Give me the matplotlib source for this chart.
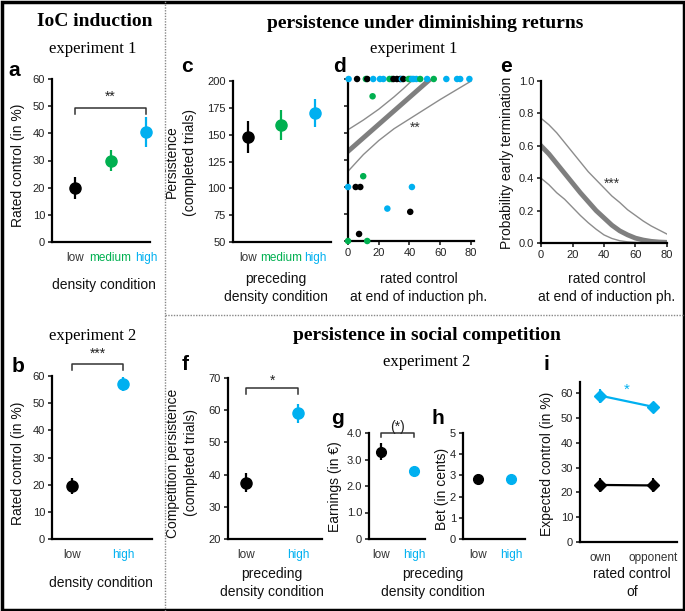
import matplotlib
matplotlib.use("Agg")
import matplotlib.pyplot as plt
from matplotlib.lines import Line2D
from matplotlib.patches import Rectangle

plt.rcParams['font.family'] = ['Liberation Sans', 'DejaVu Sans']

BLACK = "#000000"
GREEN = "#00b050"
BLUE = "#00b0f0"
GRAY = "#7f7f7f"

# ---- data ----
conds3 = ["low", "medium", "high"]
conds2 = ["low", "high"]

a_mean = [20, 30, 40.5]
a_err = [4, 4, 5.5]

b_mean = [19.5, 57]
b_err = [3, 2.5]

c_mean = [148, 159, 170]
c_err = [15, 14, 13]

# panel d: rated control vs persistence (0 = low, 1 = medium, 2 = high)
d_x = [0.4, 5.9, 11.6, 12.5, 16.4, 20.8, 23, 27, 28.5, 29.6, 31.8, 34, 35, 36,
       39.4, 40.5, 41.6, 42.7, 44.5, 47, 51.5, 55.8, 64, 71, 73, 79,
       16, 9.9, 0, 5, 8, 41.6, 25.6, 40.5, 7.2, 0, 12.5]
d_y = [200] * 26 + [184, 110, 100, 100, 100, 100, 80, 77, 56.5, 50, 50]
d_grp = [2, 0, 1, 0, 2, 2, 2, 1, 1, 0, 0, 0, 2, 0,
         1, 1, 2, 2, 2, 1, 2, 1, 2, 2, 2, 2,
         1, 1, 2, 0, 0, 2, 2, 0, 0, 1, 1]

d_fit_x = [0, 53.6]
d_fit_y = [133, 200]
d_up_x = [0, 10, 20, 30, 36, 42]
d_up_y = [153, 162, 172, 183.5, 191, 199]
d_lo_x = [0, 10, 20, 30, 40, 50, 60, 70, 80]
d_lo_y = [114.5, 130, 143, 154, 163, 172, 181, 189.5, 198]

# panel e: probability of early termination
e_x = [0, 5, 10, 15, 20, 25, 30, 35, 40, 45, 50, 55, 60, 65, 70, 75, 80]
e_fit = [0.60, 0.55, 0.49, 0.43, 0.37, 0.31, 0.255, 0.20, 0.155, 0.11,
         0.075, 0.05, 0.03, 0.018, 0.01, 0.006, 0.004]
e_up = [0.77, 0.73, 0.68, 0.62, 0.56, 0.50, 0.44, 0.39, 0.34, 0.29, 0.25,
        0.205, 0.17, 0.135, 0.105, 0.08, 0.055]
e_lo = [0.40, 0.36, 0.31, 0.27, 0.22, 0.17, 0.125, 0.085, 0.05, 0.028,
        0.014, 0.007, 0.004, 0.002, 0.001, 0.0, 0.0]

f_mean = [37.5, 59]
f_err = [3, 3]

g_mean = [3.3, 2.55]
g_err = [0.33, 0.12]

h_mean = [2.85, 2.85]
h_err = [0.2, 0.15]

i_cats = ["own", "opponent"]
i_low = [23, 22.8]
i_low_err = [3, 2.8]
i_high = [59, 54.5]
i_high_err = [2.8, 1.8]

# ---- figure ----
W, H = 685, 611
fig = plt.figure(figsize=(W / 100, H / 100), dpi=100)


def box(x0, y0, x1, y1):
    return fig.add_axes([x0 / W, 1 - y1 / H, (x1 - x0) / W, (y1 - y0) / H])


def ftext(x, y, s, **kw):
    fig.text(x / W, 1 - y / H, s, **kw)


def style(ax):
    for s in ["top", "right"]:
        ax.spines[s].set_visible(False)
    for s in ["left", "bottom"]:
        ax.spines[s].set_linewidth(1.6)
    ax.tick_params(direction="out", length=3, width=1.2, labelsize=8,
                   pad=2, colors="#222222")
    ax.patch.set_alpha(0)


def cat_axis(ax, labels, colors):
    ax.set_xticks(range(1, len(labels) + 1))
    ax.set_xticklabels(labels, fontsize=8.5)
    ax.tick_params(axis="x", length=0, pad=7)
    for t, c in zip(ax.get_xticklabels(), colors):
        t.set_color("#333333" if c == BLACK else c)


def points(ax, means, errs, colors, ms=8):
    for k, (m, e, c) in enumerate(zip(means, errs, colors)):
        ax.errorbar(k + 1, m, yerr=e, fmt="o", color=c, ms=ms,
                    elinewidth=1.6, capsize=0, clip_on=False, zorder=3)


def bracket(ax, x0, x1, y, drop, star, sy):
    ax.plot([x0, x0, x1, x1], [y - drop, y, y, y - drop], color="#333333",
            lw=1.1, clip_on=False)
    ax.text((x0 + x1) / 2, sy, star, ha="center", va="center", fontsize=10,
            color="#222222", clip_on=False)


serif = dict(family=["Liberation Serif", "DejaVu Serif"])

# section titles
ftext(95, 22, "IoC induction", ha="center", va="center", fontsize=14,
      fontweight="bold", **serif)
ftext(93, 49, "experiment 1", ha="center", va="center", fontsize=12, **serif)
ftext(93, 336, "experiment 2", ha="center", va="center", fontsize=12, **serif)
ftext(425, 23, "persistence under diminishing returns", ha="center",
      va="center", fontsize=14, fontweight="bold", **serif)
ftext(414, 49, "experiment 1", ha="center", va="center", fontsize=12, **serif)
ftext(427, 336, "persistence in social competition", ha="center",
      va="center", fontsize=14, fontweight="bold", **serif)
ftext(427, 362, "experiment 2", ha="center", va="center", fontsize=12, **serif)

# panel letters
for lab, x, y in [("a", 14, 70), ("b", 18, 366), ("c", 187, 67),
                  ("d", 339, 67), ("e", 506, 67), ("f", 185, 365),
                  ("g", 337, 418), ("h", 438, 418), ("i", 546, 365)]:
    ftext(x, y, lab, ha="center", va="center", fontsize=15, fontweight="bold")

lab_kw = dict(ha="center", va="center", fontsize=10, color="#111111",
              linespacing=1.3)
ylab_kw = dict(ha="center", va="center", fontsize=10, color="#111111",
               rotation=90, linespacing=1.3)

# ---- a ----
ax = box(52, 79, 150, 242)
style(ax)
points(ax, a_mean, a_err, [BLACK, GREEN, BLUE])
ax.set_xlim(0.35, 3.11)
ax.set_ylim(0, 60)
ax.set_yticks(range(0, 61, 10))
cat_axis(ax, conds3, [BLACK, GREEN, BLUE])
bracket(ax, 1, 3, 49.5, 2.5, "**", 53.5)
ftext(18, 165, "Rated control (in %)", **ylab_kw)
ftext(104, 285, "density condition", **lab_kw)

# ---- b ----
ax = box(52, 376, 152, 539)
style(ax)
points(ax, b_mean, b_err, [BLACK, BLUE])
ax.set_xlim(0.61, 2.57)
ax.set_ylim(0, 60)
ax.set_yticks(range(0, 61, 10))
cat_axis(ax, conds2, [BLACK, BLUE])
bracket(ax, 1, 2, 64.5, 2.2, "***", 68)
ftext(18, 463, "Rated control (in %)", **ylab_kw)
ftext(101, 583, "density condition", **lab_kw)

# ---- c ----
ax = box(233, 81, 331, 242)
style(ax)
points(ax, c_mean, c_err, [BLACK, GREEN, BLUE])
ax.set_xlim(0.55, 3.48)
ax.set_ylim(50, 200)
ax.set_yticks(range(50, 201, 25))
cat_axis(ax, conds3, [BLACK, GREEN, BLUE])
ftext(181, 162, "Persistence\n(completed trials)", **ylab_kw)
ftext(276, 288, "preceding\ndensity condition", **lab_kw)

# ---- d ----
ax = box(348, 79, 474, 241)
style(ax)
grp_col = [BLACK, GREEN, BLUE]
ax.plot(d_up_x, d_up_y, color="#8c8c8c", lw=1, zorder=1)
ax.plot(d_lo_x, d_lo_y, color="#8c8c8c", lw=1, zorder=1)
ax.plot(d_fit_x, d_fit_y, color=GRAY, lw=3.5, zorder=1)
ax.scatter(d_x, d_y, c=[grp_col[g] for g in d_grp], s=22, zorder=3,
           clip_on=False, linewidths=0)
ax.set_xlim(0, 82)
ax.set_ylim(50, 200)
ax.set_xticks(range(0, 81, 20))
ax.set_yticks(range(50, 201, 25))
ax.set_yticklabels([])
ax.text(44, 155, "**", ha="center", va="center", fontsize=10, color="#333333")
ftext(419, 288, "rated control\nat end of induction ph.", **lab_kw)

# ---- e ----
ax = box(541, 81, 667, 243)
style(ax)
ax.plot(e_x, e_up, color="#8c8c8c", lw=1)
ax.plot(e_x, e_lo, color="#8c8c8c", lw=1)
ax.plot(e_x, e_fit, color=GRAY, lw=3.5)
ax.set_xlim(0, 80)
ax.set_ylim(0, 1)
ax.set_xticks(range(0, 81, 20))
ax.set_yticks([0, 0.2, 0.4, 0.6, 0.8, 1.0])
ax.set_yticklabels(["0.0", "0.2", "0.4", "0.6", "0.8", "1.0"])
ax.text(45, 0.365, "***", ha="center", va="center", fontsize=10,
        color="#333333")
ftext(507, 163, "Probability early termination", **ylab_kw)
ftext(607, 288, "rated control\nat end of induction ph.", **lab_kw)

# ---- f ----
ax = box(228, 378, 322, 539)
style(ax)
points(ax, f_mean, f_err, [BLACK, BLUE])
ax.set_xlim(0.65, 2.46)
ax.set_ylim(20, 70)
ax.set_yticks(range(20, 71, 10))
cat_axis(ax, conds2, [BLACK, BLUE])
bracket(ax, 1, 2, 66.8, 1.8, "*", 69)
ftext(182, 463, "Competition persistence\n(completed trials)", **ylab_kw)
ftext(272, 583, "preceding\ndensity condition", **lab_kw)

# ---- g ----
ax = box(369, 433, 425, 539)
style(ax)
points(ax, g_mean, g_err, [BLACK, BLUE], ms=7)
ax.set_xlim(0.64, 2.33)
ax.set_ylim(0, 4)
ax.set_yticks([0, 1, 2, 3, 4])
ax.set_yticklabels(["0", "1.0", "2.0", "3.0", "4.0"])
cat_axis(ax, conds2, [BLACK, BLUE])
bracket(ax, 1, 2, 4.0, 0.15, "(*)", 4.22)
ftext(335, 487, "Earnings (in €)", **ylab_kw)
ftext(433, 583, "preceding\ndensity condition", **lab_kw)

# ---- h ----
ax = box(463, 433, 525, 539)
style(ax)
points(ax, h_mean, h_err, [BLACK, BLUE], ms=7)
ax.set_xlim(0.55, 2.42)
ax.set_ylim(0, 5)
ax.set_yticks(range(0, 6))
cat_axis(ax, conds2, [BLACK, BLUE])
ftext(442, 489, "Bet (in cents)", **ylab_kw)

# ---- i ----
ax = box(580, 382, 677, 542)
style(ax)
ax.errorbar([1, 2], i_low, yerr=i_low_err, fmt="-D", color=BLACK, ms=6,
            lw=1.6, elinewidth=1.5, capsize=0, clip_on=False)
ax.errorbar([1, 2], i_high, yerr=i_high_err, fmt="-D", color=BLUE, ms=6,
            lw=1.6, elinewidth=1.5, capsize=0, clip_on=False)
ax.set_xlim(0.62, 2.45)
ax.set_ylim(0, 64.5)
ax.set_yticks(range(0, 61, 10))
cat_axis(ax, i_cats, [BLACK, BLACK])
ax.text(1.5, 61.5, "*", ha="center", va="center", fontsize=11, color=BLUE)
ftext(547, 464, "Expected control (in %)", **ylab_kw)
ftext(632, 583, "rated control\nof", **lab_kw)

# ---- separators and frame ----
dot = dict(color="#888888", lw=1.0, linestyle=(0, (1, 1)),
           transform=fig.transFigure)
fig.add_artist(Line2D([165 / W, 165 / W], [0, 1], **dot))
fig.add_artist(Line2D([165 / W, 1], [1 - 315 / H, 1 - 315 / H], **dot))
fig.add_artist(Rectangle((1.5 / W, 1.5 / H), 1 - 3 / W, 1 - 3 / H,
                         transform=fig.transFigure, fill=False,
                         edgecolor="black", lw=2.5))

fig.savefig("out.png", dpi=100)
